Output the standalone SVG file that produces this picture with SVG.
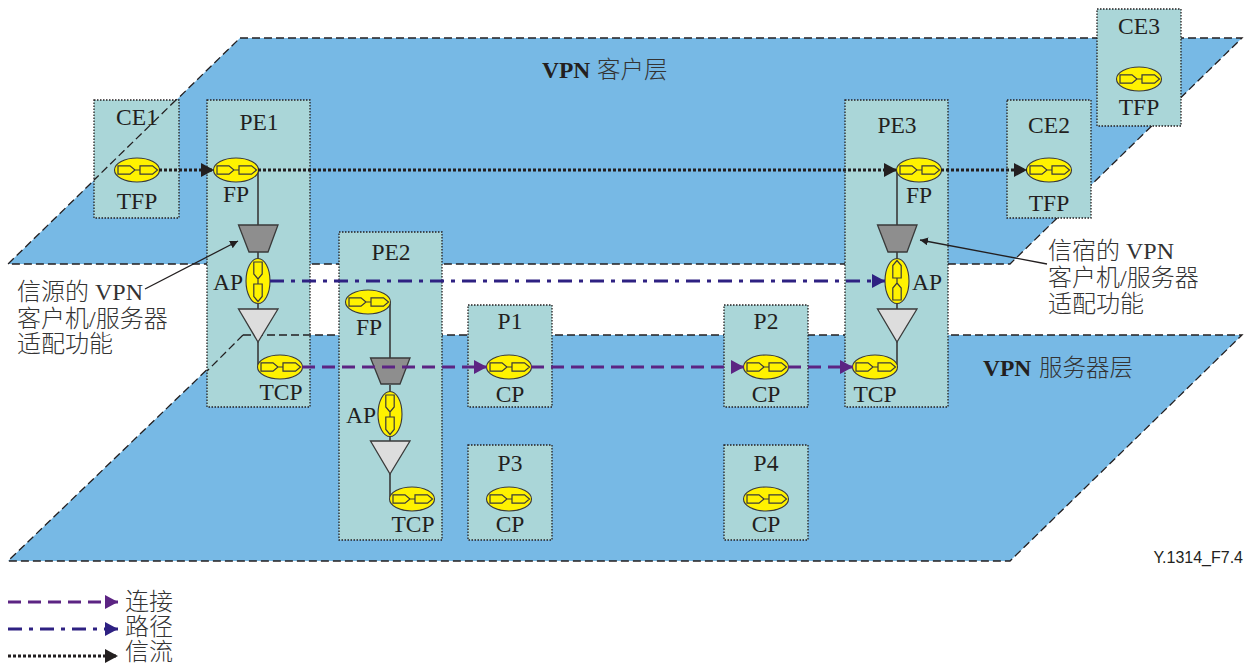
<svg xmlns="http://www.w3.org/2000/svg" xmlns:xlink="http://www.w3.org/1999/xlink" width="1244" height="664" viewBox="0 0 1244 664">
<style>
text{font-family:"Liberation Serif","Noto Sans CJK SC",serif;font-size:23.500px;fill:#231f20}
.m{text-anchor:middle}
.cjk{font-family:"Noto Sans CJK SC",sans-serif;font-weight:300;fill:#333}
.note{font-size:24px;fill:#333;font-weight:300}
.b{font-weight:bold}
.plane{fill:#77b9e5;stroke:none}
.edge{fill:none;stroke:#231f20;stroke-width:1.3;stroke-dasharray:8 4}
.box{fill:#aad6d8;stroke:#231f20;stroke-width:1.3;stroke-dasharray:1.5 1.5}
.wire{stroke:#3a3a3a;stroke-width:1.6;fill:none}
.trap{fill:#8e8e8e;stroke:#3a3a3a;stroke-width:1.3}
.tri{fill:#dddddd;stroke:#3a3a3a;stroke-width:1.3}
.conn{stroke:#5c2483;stroke-width:3;stroke-dasharray:13 7;fill:none}
.path{stroke:#2e2182;stroke-width:3;stroke-dasharray:14 7 4 7;fill:none}
.flow{stroke:#231f20;stroke-width:3;stroke-dasharray:3 2;fill:none}
.call{stroke:#231f20;stroke-width:1.3;fill:none}
</style>
<defs>
<marker id="mc" markerUnits="userSpaceOnUse" markerWidth="14" markerHeight="16" refX="13" refY="7" orient="auto"><path d="M0 0L13 7L0 14Z" fill="#5c2483"/></marker>
<marker id="mp" markerUnits="userSpaceOnUse" markerWidth="14" markerHeight="16" refX="13" refY="7" orient="auto"><path d="M0 0L13 7L0 14Z" fill="#2e2182"/></marker>
<marker id="mf" markerUnits="userSpaceOnUse" markerWidth="14" markerHeight="16" refX="13" refY="7" orient="auto"><path d="M0 0L13 7L0 14Z" fill="#231f20"/></marker>
<marker id="ms" markerUnits="userSpaceOnUse" markerWidth="10" markerHeight="10" refX="8" refY="4" orient="auto"><path d="M0 0L8 4L0 8Z" fill="#231f20"/></marker>
<g id="glyph">
<ellipse cx="0" cy="0" rx="22.500" ry="12" fill="#fff200" stroke="#3a3a3a" stroke-width="1.100"/>
<path d="M-19-4.200H-7L-2 0L-7 4.200H-19ZM3-4.200H15.500L20.500 0L15.500 4.200H3ZM-2 0H3" fill="#fff200" stroke="#3a3a3a" stroke-width="1.200"/>
</g>
</defs>

<g id="plane-client"><polygon class="plane" points="240,38 1242,38 1010,264 8,264"/><polygon class="edge" points="240,38 1242,38 1010,264 8,264"/>
<text x="542" y="78"><tspan class="b">VPN</tspan><tspan class="cjk" x="597">客户层</tspan></text></g>
<g id="plane-server"><polygon class="plane" points="243,335 1242,335 1010,561 8,561"/><polygon class="edge" points="243,335 1242,335 1010,561 8,561"/>
<text x="983" y="376"><tspan class="b">VPN</tspan><tspan class="cjk" x="1039">服务器层</tspan></text></g>

<g id="CE1"><rect class="box" x="94" y="100" width="85" height="118"/><path class="edge" d="M176 100L94 180"/><text class="m" x="137" y="125">CE1</text><use xlink:href="#glyph" href="#glyph" x="137" y="170"/><text class="m" x="137" y="209">TFP</text></g>

<g id="PE1"><rect class="box" x="207" y="100" width="103" height="307"/><path class="edge" d="M243 335H310M243 335L207 371"/>
<text class="m" x="259" y="130">PE1</text>
<path class="wire" d="M258 170V225M258 252V260M258 302V309M258 342V367"/>
<polygon class="trap" points="238.500,225 278,225 268,252 249,252"/><polygon class="tri" points="238.500,309 278,309 258,342"/>
<use xlink:href="#glyph" href="#glyph" x="236" y="170"/><text class="m" x="236" y="202">FP</text>
<use xlink:href="#glyph" href="#glyph" transform="translate(258 281) rotate(90)"/><text class="m" x="228" y="290">AP</text>
<use xlink:href="#glyph" href="#glyph" x="280" y="367"/><text class="m" x="281" y="400">TCP</text></g>

<g id="PE2"><rect class="box" x="339" y="232" width="103" height="308"/>
<text class="m" x="391" y="260">PE2</text>
<path class="wire" d="M390 302V358M390 385V392M390 435V441M390 474V499"/>
<polygon class="trap" points="370.500,358 410,358 400,384 381,384"/><polygon class="tri" points="370.500,441 410,441 390,474"/>
<use xlink:href="#glyph" href="#glyph" x="368" y="302"/><text class="m" x="369" y="335">FP</text>
<use xlink:href="#glyph" href="#glyph" transform="translate(390 414) rotate(90)"/><text class="m" x="361" y="423">AP</text>
<use xlink:href="#glyph" href="#glyph" x="412" y="499"/><text class="m" x="413" y="532">TCP</text></g>

<g id="P1"><rect class="box" x="468" y="305" width="84" height="102"/><text class="m" x="510" y="329">P1</text><use xlink:href="#glyph" href="#glyph" x="509" y="367"/><text class="m" x="510" y="402">CP</text></g>
<g id="P3"><rect class="box" x="468" y="445" width="84" height="95"/><text class="m" x="510" y="471">P3</text><use xlink:href="#glyph" href="#glyph" x="509" y="499"/><text class="m" x="510" y="532">CP</text></g>
<g id="P2"><rect class="box" x="724" y="305" width="84" height="102"/><text class="m" x="766" y="329">P2</text><use xlink:href="#glyph" href="#glyph" x="766" y="367"/><text class="m" x="766" y="402">CP</text></g>
<g id="P4"><rect class="box" x="724" y="445" width="84" height="95"/><text class="m" x="766" y="471">P4</text><use xlink:href="#glyph" href="#glyph" x="766" y="499"/><text class="m" x="766" y="532">CP</text></g>

<g id="PE3"><rect class="box" x="845" y="100" width="103" height="307"/>
<text class="m" x="897" y="133">PE3</text>
<path class="wire" d="M897 170V225M897 252V260M897 302V309M897 342V367"/>
<polygon class="trap" points="877.500,225 917,225 907,252 888,252"/><polygon class="tri" points="877.500,309 917,309 897,342"/>
<use xlink:href="#glyph" href="#glyph" x="919" y="170"/><text class="m" x="919" y="203">FP</text>
<use xlink:href="#glyph" href="#glyph" transform="translate(897 281) rotate(-90)"/><text class="m" x="927" y="290">AP</text>
<use xlink:href="#glyph" href="#glyph" x="875" y="367"/><text class="m" x="875" y="402">TCP</text></g>

<g id="CE2"><rect class="box" x="1007" y="100" width="84" height="118"/><text class="m" x="1049" y="133">CE2</text><use xlink:href="#glyph" href="#glyph" x="1049" y="170"/><text class="m" x="1049" y="211">TFP</text></g>
<g id="CE3"><rect class="box" x="1097" y="9" width="84" height="117"/><text class="m" x="1139" y="34">CE3</text><use xlink:href="#glyph" href="#glyph" x="1139" y="79"/><text class="m" x="1139" y="115">TFP</text></g>

<g id="connectors">
<path class="flow" d="M159 170H214" marker-end="url(#mf)"/>
<path class="flow" d="M258 170H897" marker-end="url(#mf)"/>
<path class="flow" d="M941 170H1027" marker-end="url(#mf)"/>
<path class="path" d="M270 281H885" marker-end="url(#mp)"/>
<path class="conn" d="M302 367H487" marker-end="url(#mc)"/>
<path class="conn" d="M531 367H744" marker-end="url(#mc)"/>
<path class="conn" d="M788 367H853" marker-end="url(#mc)"/>
<path class="call" d="M145 289L238 241" marker-end="url(#ms)"/>
<path class="call" d="M1047 264L920 240" marker-end="url(#ms)"/>
<path class="conn" d="M8 602H118" marker-end="url(#mc)"/>
<path class="path" d="M8 629H118" marker-end="url(#mp)"/>
<path class="flow" d="M8 656H118" marker-end="url(#mf)"/>
</g>

<g id="labels">
<text class="note" x="17" y="300">信源的 VPN<tspan x="17" y="327">客户机/服务器</tspan><tspan x="17" y="352">适配功能</tspan></text>
<text class="note" x="1048" y="259">信宿的 VPN<tspan x="1048" y="286">客户机/服务器</tspan><tspan x="1048" y="312">适配功能</tspan></text>
<text x="1243" y="563" text-anchor="end" style="font-family:'Liberation Sans',sans-serif;font-size:16px">Y.1314_F7.4</text>
<text class="note" x="125" y="610">连接<tspan x="125" y="635">路径</tspan><tspan x="125" y="660">信流</tspan></text>
</g>
</svg>
